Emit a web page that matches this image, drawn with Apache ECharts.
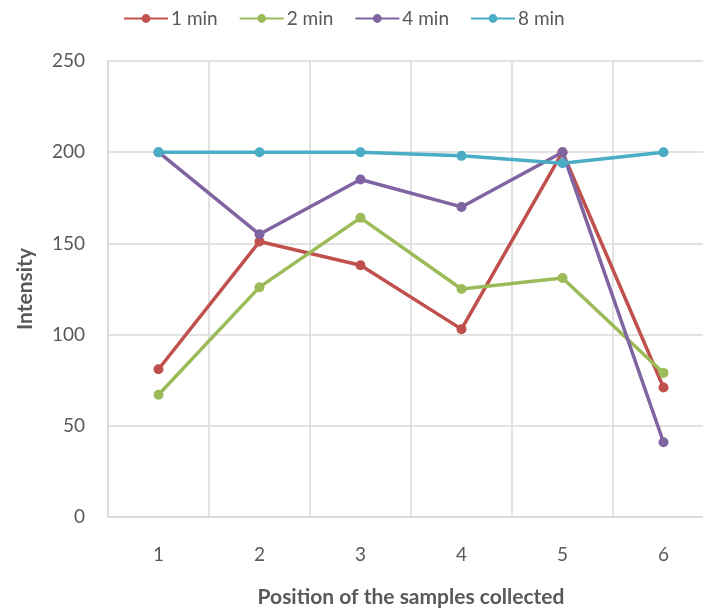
<!DOCTYPE html>
<html>
<head>
<meta charset="utf-8">
<script src="https://cdn.jsdelivr.net/npm/echarts@6/dist/echarts.min.js"></script>
<style>
html,body{margin:0;padding:0;background:#fff;}
#chart{width:703px;height:613px;}
</style>
</head>
<body>
<div id="chart"></div>
<script>
const categories = ['1', '2', '3', '4', '5', '6'];
const seriesNames = ['1 min', '2 min', '4 min', '8 min'];
const min1 = [81, 151, 138, 103, 200, 71];
const min2 = [67, 126, 164, 125, 131, 79];
const min4 = [200, 155, 185, 170, 200, 41];
const min8 = [200, 200, 200, 198, 194, 200];
const yTicks = [0, 50, 100, 150, 200, 250];
const colors = ['#C0504D', '#9BBB59', '#8064A2', '#4BACC6'];
const values = [min1, min2, min4, min8];

const font = 'Lato, "Open Sans", sans-serif';
const chart = echarts.init(document.getElementById('chart'), null, {renderer: 'canvas'});
chart.setOption({
  animation: false,
  color: colors,
  textStyle: {fontFamily: font},
  legend: {
    top: 4,
    left: 118,
    itemWidth: 44,
    itemHeight: 11,
    itemGap: 21,
    textStyle: {fontSize: 19, color: '#595959', fontFamily: font, padding: [0,0,0,-2]},
    data: seriesNames
  },
  grid: {left: 108, right: -11, top: 61, bottom: 96, containLabel: false, outerBoundsMode: 'none'},
  xAxis: {
    type: 'category',
    data: categories,
    boundaryGap: true,
    name: 'Position of the samples collected',
    nameLocation: 'middle',
    nameGap: 70,
    nameTextStyle: {fontSize: 21, fontWeight: 'bold', color: '#595959', fontFamily: font},
    axisLine: {show: true, lineStyle: {color: '#d9d9d9', width: 1.5}},
    axisTick: {show: false},
    axisLabel: {fontSize: 19, color: '#595959', margin: 28, fontFamily: font},
    splitLine: {show: true, lineStyle: {color: '#d9d9d9', width: 1.5}}
  },
  yAxis: {
    type: 'value',
    min: yTicks[0],
    max: yTicks[yTicks.length - 1],
    interval: 50,
    name: 'Intensity',
    nameLocation: 'middle',
    nameGap: 72,
    nameRotate: 90,
    nameTextStyle: {fontSize: 21, fontWeight: 'bold', color: '#595959', fontFamily: font},
    axisLine: {show: true, lineStyle: {color: '#d9d9d9', width: 1.5}},
    axisTick: {show: false},
    axisLabel: {fontSize: 19, color: '#595959', margin: 23, fontFamily: font},
    splitLine: {show: true, lineStyle: {color: '#d9d9d9', width: 1.5}}
  },
  series: seriesNames.map((n, i) => ({
    name: n,
    type: 'line',
    data: values[i],
    symbol: 'circle',
    symbolSize: 10,
    lineStyle: {width: 3.5, color: colors[i]},
    itemStyle: {color: colors[i]},
    z: 2 + i
  }))
});
</script>
</body>
</html>
